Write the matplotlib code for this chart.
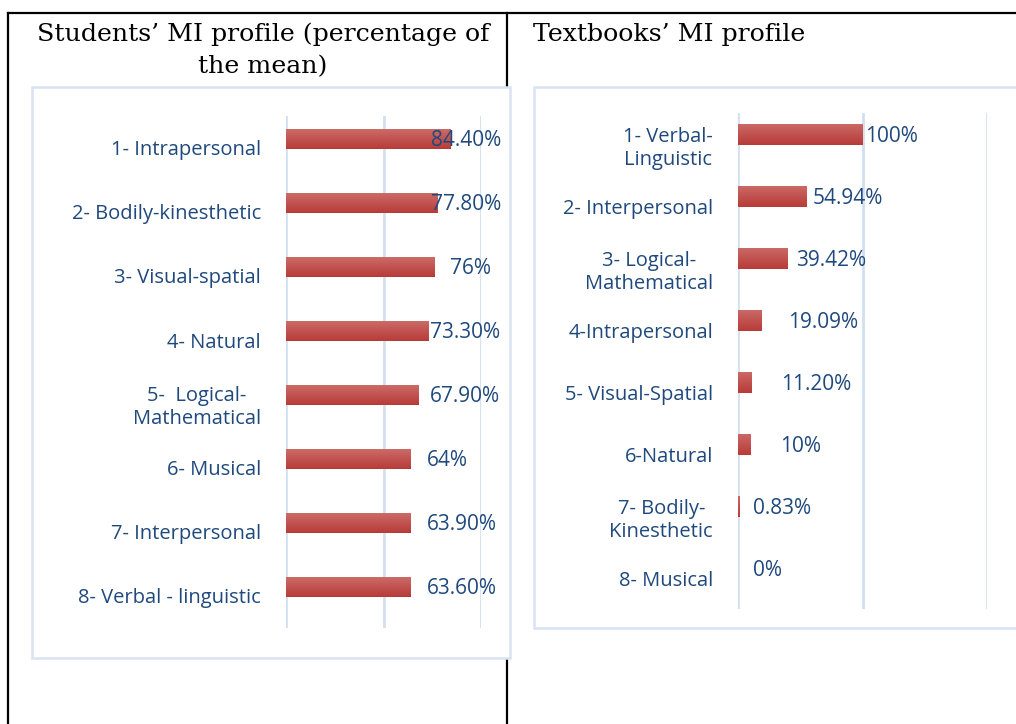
import numpy as np
import matplotlib
matplotlib.use("Agg")
import matplotlib.pyplot as plt
from matplotlib.patches import Rectangle

W, H = 1016, 724
TEXT = "#1F497D"; GRID = "#D3DFF1"; BOX = "#D9E3F1"; BAR = "#C0504D"

# students' MI profile
stu_labels = ["1- Intrapersonal", "2- Bodily-kinesthetic", "3- Visual-spatial", "4- Natural",
              "5-  Logical-\nMathematical", "6- Musical", "7- Interpersonal", "8- Verbal - linguistic"]
stu_values = [0.844, 0.778, 0.76, 0.733, 0.679, 0.64, 0.639, 0.636]
stu_text = ["84.40%", "77.80%", "76%", "73.30%", "67.90%", "64%", "63.90%", "63.60%"]

# textbooks' MI profile
txt_labels = ["1- Verbal-\nLinguistic", "2- Interpersonal", "3- Logical-\nMathematical", "4-Intrapersonal",
              "5- Visual-Spatial", "6-Natural", "7- Bodily-\nKinesthetic", "8- Musical"]
txt_values = [1.00, 0.5494, 0.3942, 0.1909, 0.112, 0.10, 0.0083, 0.0]
txt_text = ["100%", "54.94%", "39.42%", "19.09%", "11.20%", "10%", "0.83%", "0%"]

# label placement (Excel-moved labels), in data units
stu_lab_x = [0.923, 0.923, 0.948, 0.92, 0.92, 0.825, 0.90, 0.90]   # centres
txt_lab_x = [1.02, 0.60, 0.466, 0.40, 0.345, 0.337, 0.12, 0.12]    # left edges


def px(x0, y0, x1, y1):
    return [x0 / W, 1 - y1 / H, (x1 - x0) / W, (y1 - y0) / H]


fig = plt.figure(figsize=(W / 100, H / 100), dpi=100)
fig.patch.set_facecolor("white")

# page frame: table lines and chart boxes
bg = fig.add_axes([0, 0, 1, 1])
bg.set_xlim(0, W); bg.set_ylim(H, 0); bg.axis("off")
bg.plot([8, W], [13, 13], color="black", lw=1.6, zorder=1)
bg.plot([8, 8], [13, H], color="black", lw=1.6, zorder=1)
bg.plot([507, 507], [13, H], color="black", lw=1.6, zorder=1)
bg.add_patch(Rectangle((32, 87), 478, 571, facecolor="white", edgecolor=BOX, lw=1.8, zorder=2))
bg.add_patch(Rectangle((534, 87), 500, 541, facecolor="white", edgecolor=BOX, lw=1.8, zorder=2))
serif = "DejaVu Serif"
TS = 18.2
bg.text(263, 34, "Students\u2019 MI profile (percentage of", ha="center", va="center",
        fontsize=TS, family=serif, color="black")
bg.text(263, 67, "the mean)", ha="center", va="center", fontsize=TS, family=serif, color="black")
bg.text(533, 34, "Textbooks\u2019 MI profile", ha="left", va="center",
        fontsize=TS, family=serif, color="black")

sans = "Open Sans"
FS = 14.5
VS = 15
grad = np.linspace(0, 1, 50).reshape(-1, 1)
cmap = matplotlib.colors.LinearSegmentedColormap.from_list("bar", ["#CB6B68", "#B83B38"])


def draw(rect, labels, values, texts, lab_x, ha, xmax, height, top_pad, lab_dy):
    ax = fig.add_axes(px(*rect))
    ax.set_facecolor("none")
    n = len(values)
    y = np.arange(n)
    bars = ax.barh(y, values, height=height, color=BAR, zorder=3)
    for b in bars:
        if b.get_width() <= 0:
            continue
        im = ax.imshow(grad, cmap=cmap, aspect="auto", zorder=3,
                       extent=(b.get_x(), b.get_x() + b.get_width(),
                               b.get_y() + b.get_height(), b.get_y()))
        im.set_clip_path(b)
    ax.set_xlim(0, xmax)
    ax.set_ylim(n - top_pad, -top_pad)
    ax.set_xticks(np.linspace(0, xmax, 3))
    ax.xaxis.grid(True, color=GRID, lw=2)
    ax.set_axisbelow(True)
    ax.tick_params(axis="x", length=0, labelbottom=False)
    ax.set_yticks(y + lab_dy)
    ax.set_yticklabels(labels, fontsize=FS, family=sans, color=TEXT)
    for t in ax.get_yticklabels():
        t.set_multialignment("center")
        t.set_linespacing(1.2)
    ax.tick_params(axis="y", length=0, pad=18)
    for s in ax.spines.values():
        s.set_visible(False)
    for i, (lx, t) in enumerate(zip(lab_x, texts)):
        ax.text(lx, i + 0.03, t, ha=ha, va="center", fontsize=VS, family=sans,
                color=TEXT, clip_on=False, zorder=4)
    return ax


draw((286, 116, 481, 628), stu_labels, stu_values, stu_text, stu_lab_x, "center", 1.0, 0.3, 0.36, 0.14)
draw((738, 113, 987, 609), txt_labels, txt_values, txt_text, txt_lab_x, "left", 2.0, 0.34, 0.35, 0.16)

fig.savefig("out.png", dpi=100, facecolor="white")
